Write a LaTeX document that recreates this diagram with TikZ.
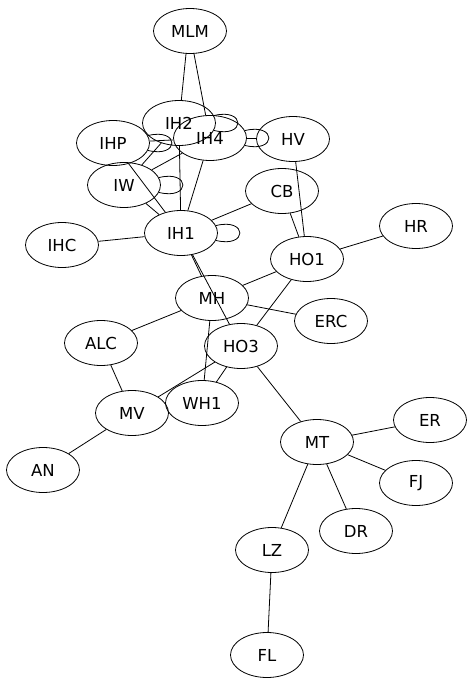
\documentclass[tikz,border=0pt]{standalone}
\usepackage{fontspec}
\setmainfont{DejaVu Sans}
\usetikzlibrary{calc, shapes.geometric}

\tikzset{
  vert/.style={draw, ellipse, minimum width=73pt, minimum height=45pt, inner sep=0pt, font=\fontsize{16.5}{18}\selectfont},
}

\begin{document}
\begin{tikzpicture}[x=1pt, y=-1pt, line width=0.8pt]
  \useasboundingbox (0,0) rectangle (473,685);
  % nodes at pixel positions of the layout
  \node[vert] (MLM) at (190,31) {MLM};
  \node[vert] (IH2) at (179,123) {IH2};
  \node[vert] (IH4) at (210,138) {IH4};
  \node[vert] (IHP) at (113,143) {IHP};
  \node[vert] (HV)  at (293,139) {HV};
  \node[vert] (IW)  at (124,185) {IW};
  \node[vert] (CB)  at (282,191) {CB};
  \node[vert] (IH1) at (181,233) {IH1};
  \node[vert] (IHC) at (62,245) {IHC};
  \node[vert] (HO1) at (307,259) {HO1};
  \node[vert] (HR)  at (416,226) {HR};
  \node[vert] (MH)  at (212,298) {MH};
  \node[vert] (ERC) at (331,321) {ERC};
  \node[vert] (ALC) at (101,343) {ALC};
  \node[vert] (HO3) at (241,346) {HO3};
  \node[vert] (WH1) at (202,403) {WH1};
  \node[vert] (MV)  at (132,413) {MV};
  \node[vert] (AN)  at (43,470) {AN};
  \node[vert] (MT)  at (317,442) {MT};
  \node[vert] (ER)  at (430,420) {ER};
  \node[vert] (FJ)  at (416,483) {FJ};
  \node[vert] (DR)  at (356,531) {DR};
  \node[vert] (LZ)  at (272,550) {LZ};
  \node[vert] (FL)  at (267,655) {FL};
  % self loops
  \draw (IH2.12) .. controls +(32,-8) and +(32,8) .. (IH2.-12);
  \draw (IH4.12) .. controls +(32,-8) and +(32,8) .. (IH4.-12);
  \draw (IHP.12) .. controls +(32,-8) and +(32,8) .. (IHP.-12);
  \draw (IW.12) .. controls +(32,-8) and +(32,8) .. (IW.-12);
  \draw (IH1.12) .. controls +(32,-8) and +(32,8) .. (IH1.-12);
  % edges
  \draw ($(MLM.south)+(-4,0)$) -- (IH2);
  \draw ($(MLM.south)+(4,0)$) -- (IH4);
  \draw (IH4) -- (HV);
  \draw (IHP) -- (IH4);
  \draw (IW) -- (IH2);
  \draw (IW) -- (IH4);
  \draw (IHP) -- (IH1);
  \draw (IW) -- (IH1);
  \draw (IH2) -- (IH1);
  \draw (IH4) -- (IH1);
  \draw (IH1) -- (CB);
  \draw (IHC) -- (IH1);
  \draw (HV) -- (HO1);
  \draw (CB) -- (HO1);
  \draw (HO1) -- (HR);
  \draw (HO1) -- (MH);
  \draw (HO1) -- (HO3);
  \draw (IH1) -- (MH);
  \draw (IH1) -- (HO3);
  \draw (MH) -- (ERC);
  \draw (MH) -- (ALC);
  \draw (MH) -- (WH1);
  \draw (HO3) -- (WH1);
  \draw (HO3) -- (MV);
  \draw (ALC) -- (MV);
  \draw (MV) -- (AN);
  \draw (HO3) -- (MT);
  \draw (MT) -- (ER);
  \draw (MT) -- (FJ);
  \draw (MT) -- (DR);
  \draw (MT) -- (LZ);
  \draw (LZ) -- (FL);
\end{tikzpicture}
\end{document}
